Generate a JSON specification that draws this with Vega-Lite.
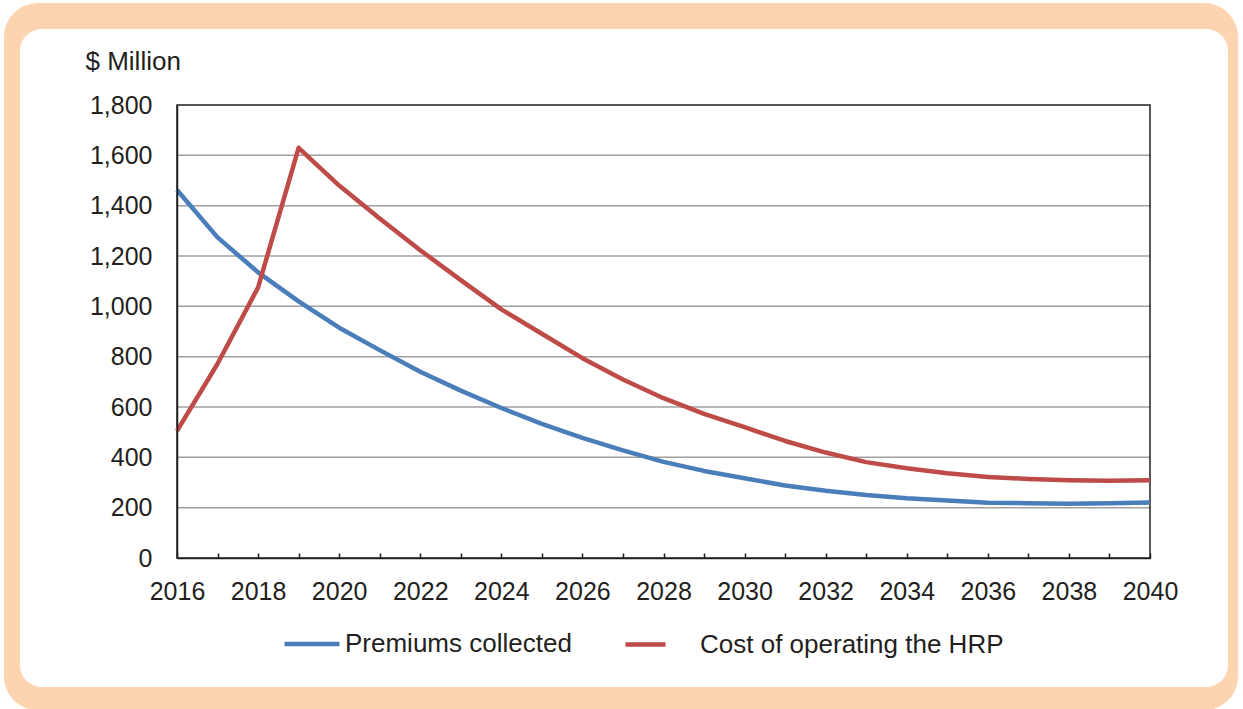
{
  "$schema": "https://vega.github.io/schema/vega-lite/v6.json",
  "width": 973,
  "height": 453,
  "autosize": {"type": "none"},
  "padding": {"left": 177, "top": 105, "right": 93, "bottom": 151},
  "background": "white",
  "config": {
    "view": {"stroke": null},
    "font": "Liberation Sans",
    "axis": {
      "labelFont": "Liberation Sans",
      "labelColor": "#231F20",
      "labelFontSize": 25,
      "titleFont": "Liberation Sans",
      "titleColor": "#231F20",
      "titleFontWeight": "normal",
      "domainColor": "#231F20",
      "domainWidth": 1.5,
      "tickColor": "#231F20",
      "tickWidth": 1.5,
      "grid": false
    },
    "legend": {
      "labelFont": "Liberation Sans",
      "labelColor": "#231F20",
      "labelFontSize": 26,
      "labelLimit": 0,
      "padding": 0
    }
  },
  "datasets": {
    "series": [
      {"year": 2016, "premiums": 1462, "cost": 505},
      {"year": 2017, "premiums": 1274, "cost": 772},
      {"year": 2018, "premiums": 1135, "cost": 1075},
      {"year": 2019, "premiums": 1020, "cost": 1630},
      {"year": 2020, "premiums": 915, "cost": 1480},
      {"year": 2021, "premiums": 826, "cost": 1349},
      {"year": 2022, "premiums": 740, "cost": 1223},
      {"year": 2023, "premiums": 665, "cost": 1104},
      {"year": 2024, "premiums": 596, "cost": 988},
      {"year": 2025, "premiums": 533, "cost": 891},
      {"year": 2026, "premiums": 477, "cost": 794},
      {"year": 2027, "premiums": 428, "cost": 709},
      {"year": 2028, "premiums": 382, "cost": 635},
      {"year": 2029, "premiums": 346, "cost": 573},
      {"year": 2030, "premiums": 317, "cost": 520},
      {"year": 2031, "premiums": 288, "cost": 465},
      {"year": 2032, "premiums": 267, "cost": 419},
      {"year": 2033, "premiums": 250, "cost": 381},
      {"year": 2034, "premiums": 237, "cost": 357},
      {"year": 2035, "premiums": 228, "cost": 337},
      {"year": 2036, "premiums": 220, "cost": 322},
      {"year": 2037, "premiums": 218, "cost": 314},
      {"year": 2038, "premiums": 216, "cost": 309},
      {"year": 2039, "premiums": 218, "cost": 307},
      {"year": 2040, "premiums": 221, "cost": 309}
    ],
    "grid": [{"v": 200}, {"v": 400}, {"v": 600}, {"v": 800}, {"v": 1000}, {"v": 1200}, {"v": 1400}, {"v": 1600}],
    "one": [{}]
  },
  "data": {"name": "series"},
  "layer": [
    {
      "data": {"name": "one"},
      "mark": {"type": "rect", "color": "#FCD5B0", "cornerRadius": 34},
      "encoding": {
        "x": {"datum": 2011.733, "type": "quantitative"},
        "x2": {"datum": 2042.17},
        "y": {"datum": 2205, "type": "quantitative"},
        "y2": {"datum": -605}
      }
    },
    {
      "data": {"name": "one"},
      "mark": {"type": "rect", "color": "white", "cornerRadius": 22},
      "encoding": {
        "x": {"datum": 2012.127, "type": "quantitative"},
        "x2": {"datum": 2041.924},
        "y": {"datum": 2102, "type": "quantitative"},
        "y2": {"datum": -513}
      }
    },
    {
      "data": {"name": "grid"},
      "mark": {"type": "rule", "color": "#A0A0A0", "strokeWidth": 1.5},
      "encoding": {"y": {"field": "v", "type": "quantitative"}}
    },
    {
      "data": {"name": "one"},
      "mark": {"type": "rect", "filled": false, "color": "#231F20", "strokeWidth": 1.5},
      "encoding": {
        "x": {"datum": 2016, "type": "quantitative"},
        "x2": {"datum": 2040},
        "y": {"datum": 0, "type": "quantitative"},
        "y2": {"datum": 1800}
      }
    },
    {
      "mark": {"type": "line", "strokeWidth": 4.5, "strokeJoin": "round"},
      "encoding": {
        "x": {
          "field": "year",
          "type": "quantitative",
          "scale": {"domain": [2016, 2040], "nice": false, "zero": false},
          "axis": {
            "zindex": 2,
            "title": null,
            "values": [2016, 2017, 2018, 2019, 2020, 2021, 2022, 2023, 2024, 2025, 2026, 2027, 2028, 2029, 2030, 2031, 2032, 2033, 2034, 2035, 2036, 2037, 2038, 2039, 2040],
            "format": "d",
            "labelExpr": "datum.value % 2 == 0 ? datum.label : ''",
            "labelOverlap": false,
            "labelFlush": false,
            "tickSize": -5,
            "labelPadding": 26
          }
        },
        "y": {
          "field": "premiums",
          "type": "quantitative",
          "scale": {"domain": [0, 1800], "nice": false, "zero": false},
          "axis": {
            "zindex": 2,
            "title": "$ Million",
            "titleAngle": 0,
            "titleAlign": "left",
            "titleBaseline": "alphabetic",
            "titleX": -92,
            "titleY": -36,
            "titleFontSize": 26,
            "values": [0, 200, 400, 600, 800, 1000, 1200, 1400, 1600, 1800],
            "format": ",.0f",
            "ticks": false,
            "labelPadding": 25,
            "labelOverlap": false
          }
        },
        "color": {
          "datum": "Premiums collected",
          "scale": {"range": ["#4A7EBB"]},
          "legend": {
            "orient": "none",
            "legendX": 105,
            "legendY": 509,
            "title": null,
            "direction": "horizontal",
            "symbolType": "stroke",
            "symbolSize": 3025,
            "symbolStrokeWidth": 4.5,
            "labelOffset": 3
          }
        }
      }
    },
    {
      "mark": {"type": "line", "strokeWidth": 4.5, "strokeJoin": "round"},
      "encoding": {
        "x": {"field": "year", "type": "quantitative"},
        "y": {"field": "cost", "type": "quantitative"},
        "stroke": {
          "datum": "Cost of operating the HRP",
          "scale": {"range": ["#BE4B48"]},
          "legend": {
            "orient": "none",
            "legendX": 446,
            "legendY": 517,
            "title": null,
            "direction": "horizontal",
            "symbolType": "stroke",
            "symbolSize": 1600,
            "symbolStrokeWidth": 4.5,
            "labelOffset": 32
          }
        }
      }
    }
  ]
}
